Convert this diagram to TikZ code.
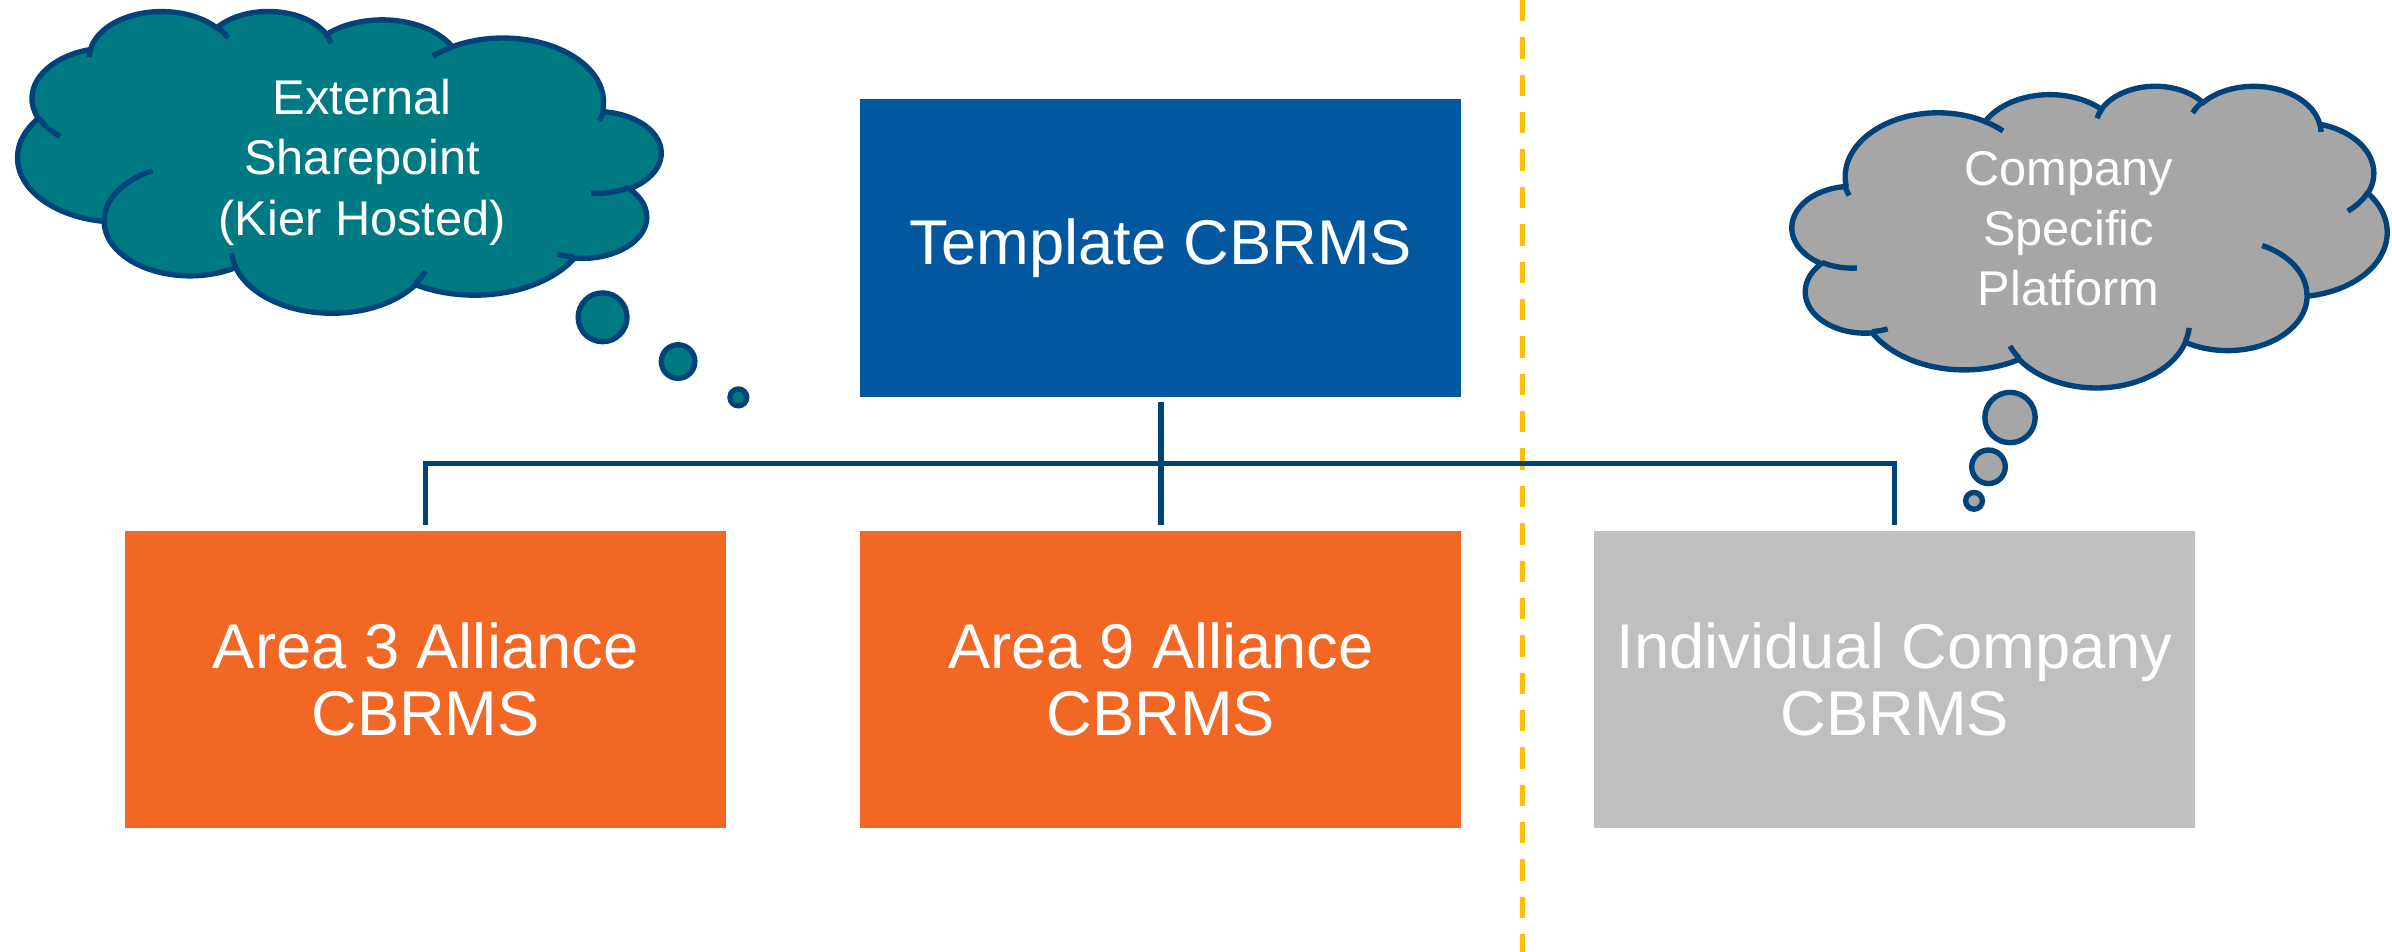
\documentclass[tikz,border=0pt]{standalone}
\usepackage{fontspec}
\setmainfont{Liberation Sans}
\usetikzlibrary{positioning}
\definecolor{tmplblue}{RGB}{2,88,158}
\definecolor{areaorange}{RGB}{242,103,36}
\definecolor{compgray}{RGB}{191,191,191}
\definecolor{cloudteal}{RGB}{0,122,130}
\definecolor{cloudgray}{RGB}{166,166,166}
\definecolor{navy}{RGB}{0,66,122}
\definecolor{divyellow}{RGB}{255,192,0}
\newcommand{\cloudpath}{(39,143.7) arc[x radius=67.53,y radius=91.90,start angle=172.25,end angle=300.33] arc[x radius=53.33,y radius=72.67,start angle=-152.03,end angle=-45.43] arc[x radius=43.65,y radius=59.45,start angle=-153.48,end angle=-37.33] arc[x radius=48.57,y radius=65.95,start angle=-139.69,end angle=-10.21] arc[x radius=53.33,y radius=72.73,start angle=-74.77,end angle=23.21] arc[x radius=67.75,y radius=92.20,start angle=-37.53,end angle=81.86] arc[x radius=57.85,y radius=78.67,start angle=0.46,end angle=121.98] arc[x radius=67.52,y radius=92.15,start angle=16.84,end angle=146.24] arc[x radius=77.20,y radius=105.43,start angle=58.99,end angle=150.20] arc[x radius=43.60,y radius=59.18,start angle=83.31,end angle=223.10] arc[x radius=43.45,y radius=59.45,start angle=120.36,end angle=264.11] -- cycle}
\newcommand{\cloudstubs}{(46.93,261.77) arc[x radius=43.45,y radius=59.45,start angle=85.55,end angle=120.36] (69.28,348.99) arc[x radius=43.60,y radius=59.18,start angle=68.24,end angle=83.31] (164.78,390.90) arc[x radius=67.52,y radius=92.15,start angle=146.24,end angle=158.48] (288.27,347.51) arc[x radius=67.52,y radius=92.15,start angle=4.74,end angle=16.84] (341.29,229.54) arc[x radius=57.85,y radius=78.67,start angle=-64.02,end angle=0.46] (417.98,153.54) arc[x radius=53.33,y radius=72.73,start angle=23.21,end angle=49.63] (383.24,54.26) arc[x radius=48.57,y radius=65.95,start angle=-10.21,end angle=0.82] (290.78,39.52) arc[x radius=48.57,y radius=65.95,start angle=-156.28,end angle=-139.69] (221.41,47.20) arc[x radius=43.65,y radius=59.45,start angle=-167.73,end angle=-153.48] (140.00,51.92) arc[x radius=67.53,y radius=91.90,start angle=-59.67,end angle=-45.71] (41.27,157.89) arc[x radius=67.53,y radius=91.90,start angle=158.57,end angle=169.49]}

\begin{document}
\begin{tikzpicture}[x=0.02cm,y=-0.02cm,
	box/.style={rectangle,minimum width=7.88cm,minimum height=3.9cm,inner sep=0pt,outer sep=0.075cm,text=white,align=center,font=\fontsize{23.6}{24.9}\selectfont},
	cloudline/.style={draw=navy,line width=2pt},
	cloudtext/.style={text=white,align=center,font=\fontsize{18.2}{22.5}\selectfont},
	bubble/.style={circle,draw=navy,line width=2pt,inner sep=0pt},
	link/.style={navy,line width=2pt},
	divider/.style={divyellow,line width=2pt,dash pattern=on 0.28cm off 0.21cm}]
	\useasboundingbox (0,0) rectangle (1568,624);

	\coordinate (divtop) at (998,0); \coordinate (divbot) at (998,624); \draw[divider] (divtop) -- (divbot);

	\node[box,fill=tmplblue] (tmpl) at (761,162.5) {Template CBRMS};
	\node[box,fill=areaorange] (area3) at (279,445.5) {Area 3 Alliance\\CBRMS};
	\node[box,fill=areaorange] (area9) at (761,445.5) {Area 9 Alliance\\CBRMS};
	\node[box,fill=compgray] (indiv) at (1242,445.5) {Individual Company\\CBRMS};

	\coordinate (bus) at (761,304);
	\draw[link] (tmpl.south) -- (area9.north); \draw[link] (area3.north) |- (bus) -| (indiv.north);

	\begin{scope}[shift={(433.1,6.9)},x=-0.01951cm,y=-0.009158cm]
		\draw[cloudline,fill=cloudteal] \cloudpath; \draw[cloudline] \cloudstubs;
	\end{scope}
	\node[cloudtext] (exttxt) at (237.5,106.4) {External\\Sharepoint\\(Kier Hosted)};
	\node[bubble,fill=cloudteal,minimum size=0.64cm] (extb1) at (395,208) {};
	\node[bubble,fill=cloudteal,minimum size=0.44cm] (extb2) at (444.5,237) {};
	\node[bubble,fill=cloudteal,minimum size=0.22cm] (extb3) at (484,260.5) {};

	\begin{scope}[shift={(1174.9,55.9)},x=0.018056cm,y=-0.009158cm]
		\draw[cloudline,fill=cloudgray] \cloudpath; \draw[cloudline] \cloudstubs;
	\end{scope}
	\node[cloudtext] (plattxt) at (1356,150) {Company\\Specific\\Platform};
	\node[bubble,fill=cloudgray,minimum size=0.66cm] (platb1) at (1317.6,273.7) {};
	\node[bubble,fill=cloudgray,minimum size=0.44cm] (platb2) at (1303.5,306) {};
	\node[bubble,fill=cloudgray,minimum size=0.22cm] (platb3) at (1294,328.3) {};
\end{tikzpicture}
\end{document}
